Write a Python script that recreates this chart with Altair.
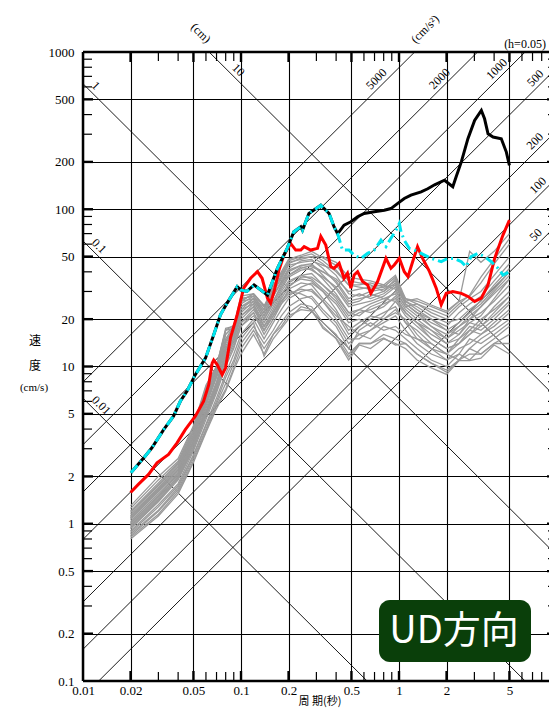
import math
import altair as alt
import pandas as pd

SERIF = "Liberation Serif"
CJK = "Noto Sans CJK JP"

# ---------------- axis values ----------------
X_LABELS = [0.01, 0.02, 0.05, 0.1, 0.2, 0.5, 1, 2, 5, 10]
Y_LABELS = [0.1, 0.2, 0.5, 1, 2, 5, 10, 20, 50, 100, 200, 500, 1000]
MINOR_MULT = [3, 4, 6, 7, 8, 9]

# tripartite guide lines
DISP_CM = [0.01, 0.1, 1, 10]
DISP_LABELS = ["0.01", "0.1", "1", "10"]
DISP_LABEL_T = [0.0108, 0.0108, 0.0108, 0.0835]
ACC = [50, 100, 200, 500, 1000, 2000, 5000]
ACC_LABELS = ["50", "100", "200", "500", "1000", "2000", "5000"]
ACC_LABEL_T = [7.97, 8.2, 7.85, 7.9, 4.51, 1.96, 0.78]

# ---------------- spectra ----------------
CYAN_T = [0.0201, 0.0248, 0.0273, 0.0324, 0.0374, 0.0413, 0.0455, 0.0514, 0.0596, 0.0672,
          0.0741, 0.0817, 0.0946, 0.0993, 0.109, 0.121, 0.147, 0.170, 0.196, 0.216,
          0.239, 0.245, 0.269, 0.320, 0.361, 0.388, 0.408,
          0.439, 0.483, 0.520, 0.574, 0.633, 0.697, 0.769, 0.827, 0.889, 0.957,
          1.005, 1.03, 1.08, 1.16, 1.25, 1.38, 1.60, 1.85, 2.04, 2.24,
          2.48, 2.66, 2.86, 3.16, 3.48, 3.84, 4.24, 4.55, 5.0]
CYAN_V = [2.11, 2.70, 3.04, 3.97, 4.83, 6.01, 6.97, 8.87, 11.3, 15.9,
          21.3, 25.3, 32.2, 30.7, 30.0, 33.0, 28.5, 42.1, 56.4, 71.9,
          77.4, 73.6, 94.0, 106, 94, 77.4, 70.2,
          55.0, 55.0, 51.1, 48.7, 52.4, 55.0, 63.6, 57.8, 65.3, 73.6,
          81.2, 71.9, 63.6, 56.4, 55.0, 52.4, 48.7, 46.4, 48.7, 48.7,
          46.4, 43.2, 50.0, 52.4, 50.0, 46.4, 42.1, 38.2, 40.1]

BLACK_TAIL_T = [0.418, 0.449, 0.496, 0.547, 0.602, 0.697, 0.807, 0.889, 0.982, 1.08,
                1.19, 1.38, 1.52, 1.68, 1.94, 2.19, 2.30, 2.48, 2.73, 3.01,
                3.32, 3.48, 3.66, 3.94, 4.44, 4.78, 5.0]
BLACK_TAIL_V = [71.9, 79.2, 83.2, 89.6, 94.0, 96.3, 98.6, 101, 109, 117,
                123, 129, 135, 143, 153, 139, 161, 200, 281, 367,
                425, 376, 302, 288, 281, 231, 190]

RED_T = [0.020, 0.0224, 0.0260, 0.0294, 0.0348, 0.0394, 0.0444, 0.0514, 0.0580, 0.0625,
         0.0657, 0.0672, 0.0706, 0.0760, 0.0798, 0.0858, 0.0946, 0.104, 0.115, 0.127,
         0.136, 0.147, 0.154, 0.162, 0.174, 0.187, 0.206, 0.222, 0.239, 0.251,
         0.276, 0.305, 0.320, 0.344, 0.370, 0.388, 0.418, 0.449, 0.472, 0.496,
         0.520, 0.547, 0.588, 0.633, 0.664, 0.732, 0.827, 0.889, 0.933, 1.005,
         1.08, 1.14, 1.22, 1.31, 1.41, 1.56, 1.72, 1.85, 1.99, 2.19,
         2.48, 2.73, 3.01, 3.32, 3.66, 4.03, 4.55, 5.0]
RED_V = [1.58, 1.78, 2.06, 2.44, 2.76, 3.27, 3.97, 4.83, 6.01, 7.67,
         10.5, 11.0, 10.3, 8.87, 9.77, 15.2, 21.3, 31.5, 36.4, 40.1,
         36.4, 27.2, 25.3, 30.0, 41.1, 51.1, 60.6, 55.0, 55.0, 57.8,
         55.0, 56.4, 67.2, 59.2, 43.2, 42.1, 45.3, 36.4, 39.2, 31.5,
         38.2, 40.1, 34.7, 33.0, 29.2, 34.7, 48.7, 42.1, 44.2, 48.7,
         40.1, 37.3, 46.4, 57.8, 48.7, 40.1, 31.5, 24.7, 29.2, 30.0,
         29.2, 27.9, 25.9, 27.2, 33.0, 48.7, 68.5, 85.3]

GRAY_T = [0.02, 0.03, 0.04, 0.05, 0.06, 0.07, 0.08, 0.09, 0.10, 0.12, 0.14, 0.16, 0.18, 0.20,
          0.24, 0.28, 0.33, 0.40, 0.48, 0.56, 0.66, 0.80, 0.95, 1.1, 1.3, 1.6, 2.0, 2.4, 2.8,
          3.3, 4.0, 5.0]
GRAY_SERIES = [
    [0.80, 1.12, 1.55, 2.45, 3.8, 5.4, 7.0, 9.5, 12, 16, 12, 16, 19, 22, 25, 24, 19, 16, 12, 14, 14, 16, 15, 14, 12, 10.5, 9.2, 11, 12, 12, 14, 16],
    [0.84, 1.20, 1.65, 2.6, 4.0, 5.8, 7.8, 10.5, 14, 18, 14, 17, 21, 24, 27, 28, 23, 19, 14, 16, 15, 18, 17, 15, 13, 11, 10, 12, 11, 13, 15, 18],
    [0.88, 1.28, 1.75, 2.75, 4.3, 6.3, 9.0, 12, 16, 20, 15, 19, 23, 27, 30, 31, 26, 20, 15, 15, 17, 19, 21, 17, 14, 12, 11, 13, 14, 16, 19, 23],
    [0.90, 1.32, 1.8, 2.9, 4.6, 6.8, 10, 13, 18, 21, 17, 22, 26, 30, 29, 27, 22, 18, 13, 17, 19, 17, 18, 16, 15, 14, 12, 11, 13, 15, 17, 20],
    [0.93, 1.38, 1.9, 3.0, 4.9, 7.2, 11, 14, 19, 22, 16, 20, 25, 31, 34, 33, 27, 22, 16, 18, 20, 22, 24, 19, 17, 14, 12, 15, 17, 16, 18, 22],
    [0.96, 1.42, 1.95, 3.1, 5.1, 7.6, 12, 15, 20, 24, 18, 23, 29, 33, 36, 35, 30, 25, 19, 20, 18, 21, 26, 21, 18, 15, 13, 14, 16, 19, 24, 30],
    [0.98, 1.48, 2.0, 3.2, 5.4, 8.0, 12.5, 15.5, 21, 25, 19, 24, 30, 35, 38, 39, 33, 27, 21, 23, 22, 24, 28, 22, 19, 17, 15, 17, 19, 18, 21, 26],
    [1.00, 1.52, 2.05, 3.3, 5.6, 8.5, 13, 16, 22, 26, 20, 25, 31, 37, 41, 42, 36, 29, 22, 21, 24, 26, 30, 24, 21, 18, 16, 18, 20, 22, 26, 33],
    [1.03, 1.56, 2.1, 3.4, 5.9, 8.8, 13.5, 16.5, 23, 27, 21, 26, 33, 40, 44, 45, 38, 31, 24, 25, 26, 28, 32, 25, 22, 19, 17, 16, 19, 21, 27, 36],
    [1.06, 1.60, 2.15, 3.5, 6.1, 9.0, 14, 17, 24, 27, 22, 28, 35, 42, 47, 48, 42, 34, 26, 27, 28, 30, 34, 26, 24, 21, 19, 20, 23, 26, 33, 42],
    [1.09, 1.65, 2.2, 3.6, 6.3, 9.3, 14.5, 17.5, 25, 28, 23, 30, 37, 45, 49, 50, 45, 38, 29, 28, 30, 31, 35, 27, 25, 22, 20, 24, 27, 30, 38, 50],
    [1.12, 1.70, 2.3, 3.7, 6.6, 9.6, 15, 18, 26, 29, 24, 31, 38, 47, 50, 52, 47, 40, 33, 32, 31, 32, 37, 26, 23, 20, 18, 22, 25, 28, 35, 45],
    [1.15, 1.75, 2.35, 3.8, 6.9, 9.8, 16, 18, 27, 28, 23, 32, 40, 48, 51, 54, 49, 44, 35, 34, 33, 30, 36, 25, 22, 20, 17, 19, 22, 25, 31, 40],
    [1.20, 1.82, 2.45, 3.95, 7.2, 10, 17, 18.3, 28, 29, 24, 33, 39, 46, 48, 50, 50, 46, 37, 36, 35, 33, 38, 27, 26, 24, 22, 26, 28, 34, 45, 60],
    [1.25, 1.90, 2.5, 4.1, 7.4, 10, 17.5, 18, 27, 28, 22, 30, 36, 44, 46, 47, 44, 41, 33, 33, 34, 32, 33, 26, 27, 24.6, 22.5, 26, 54, 46, 54, 70],
    [1.30, 2.0, 2.6, 4.2, 7.6, 10, 17, 17.5, 26, 27, 21, 28, 34, 41, 44, 43, 40, 36, 30, 31, 32, 33, 31, 24, 25, 23, 21, 25, 28.5, 37, 48, 65],
    [0.82, 1.15, 1.6, 2.5, 3.9, 5.6, 7.2, 9.8, 13, 17, 13, 16, 18, 21, 23, 22.5, 18, 15, 11, 13.7, 13, 15, 14, 13, 11, 9.8, 8.9, 10.9, 10.9, 11.3, 13.7, 12],
    [0.86, 1.22, 1.7, 2.7, 4.2, 6.0, 8.5, 11, 15, 19, 11.6, 15, 17.5, 20, 24, 23, 17.5, 15.2, 11.5, 14, 14, 15.2, 13.7, 14, 12, 10.5, 9.5, 11, 13, 12, 14, 14],
    [1.01, 1.50, 2.1, 3.3, 5.2, 7.8, 12, 15, 21, 24, 17, 21, 25, 28, 32, 34, 30, 23, 17, 19, 21, 20, 22, 20, 16, 13, 11, 12, 15, 14, 16, 19],
    [1.08, 1.62, 2.2, 3.5, 5.8, 8.7, 13, 16, 23, 25, 18, 22, 27, 32, 37, 37, 33, 28, 22, 23, 25, 27, 29, 23, 20, 17, 14, 15, 18, 17, 20, 25],
    [0.94, 1.40, 1.95, 3.0, 4.8, 7.0, 10.5, 13.5, 18, 22, 17, 21, 26, 29, 31, 30, 26, 21, 18, 16, 17, 20, 23, 19, 15, 13, 12, 14, 17, 20, 23, 28],
    [1.18, 1.78, 2.4, 3.9, 7.0, 9.9, 16, 18, 26, 29, 24.5, 29, 34, 38, 42, 44, 40, 35, 27, 29, 27, 29, 33, 25, 22, 18, 15, 18, 21, 24, 29, 36],
    [0.97, 1.45, 2.0, 3.2, 5.0, 7.4, 11.5, 14.5, 19, 23, 18, 22, 28, 34, 38, 36, 31, 26, 20, 22, 23, 25, 27, 22, 19, 16, 14, 16, 20, 24, 30, 38],
    [1.11, 1.68, 2.25, 3.6, 6.4, 9.4, 14.5, 17, 24, 26, 20, 26, 32, 38, 43, 41, 37, 32, 25, 26, 29, 27, 26, 22, 19, 15, 13, 14, 16, 18, 22, 28],
]

# ---------------- tables ----------------
gray_rows = []
for i, vals in enumerate(GRAY_SERIES):
    for t, v in zip(GRAY_T, vals):
        gray_rows.append({"T": t, "V": v, "id": i})
gray_df = pd.DataFrame(gray_rows)

cyan_df = pd.DataFrame({"T": CYAN_T, "V": CYAN_V})
black_df = pd.DataFrame({"T": CYAN_T[:27] + BLACK_TAIL_T, "V": CYAN_V[:27] + BLACK_TAIL_V})
red_df = pd.DataFrame({"T": RED_T, "V": RED_V})

TWO_PI = 2 * math.pi
guide_rows = []
for d in DISP_CM:
    for t in (0.001, 100.0):
        guide_rows.append({"T": t, "V": TWO_PI * d / t, "id": f"d{d}"})
for a in ACC:
    for t in (0.001, 100.0):
        guide_rows.append({"T": t, "V": a * t / TWO_PI, "id": f"a{a}"})
guide_df = pd.DataFrame(guide_rows)

disp_lab_df = pd.DataFrame({"T": DISP_LABEL_T,
                            "V": [TWO_PI * d / t for d, t in zip(DISP_CM, DISP_LABEL_T)],
                            "label": DISP_LABELS})
acc_lab_df = pd.DataFrame({"T": ACC_LABEL_T,
                           "V": [a * t / TWO_PI for a, t in zip(ACC, ACC_LABEL_T)],
                           "label": ACC_LABELS})

x_minor = pd.DataFrame({"T": [m * 10.0 ** e for e in range(-2, 1) for m in MINOR_MULT]})
x_major = pd.DataFrame({"T": X_LABELS[1:-1]})
y_minor = pd.DataFrame({"V": [m * 10.0 ** e for e in range(-1, 3) for m in MINOR_MULT]})
y_major = pd.DataFrame({"V": Y_LABELS[1:-1]})
one = pd.DataFrame({"k": [0]})

# ---------------- scales / axes ----------------
XR = 474          # full log range of the period axis (0.01 .. 10)
W, H = 466, 629   # visible view (the right end runs to the page edge, as in the original)
xs = alt.Scale(type="log", domain=[0.01, 10], nice=False, range=[0, XR])
ys = alt.Scale(type="log", domain=[0.1, 1000], nice=False)
xax = alt.Axis(values=X_LABELS, format="~g", grid=True, gridColor="black", gridWidth=1.1,
               domain=False, ticks=False, labelFont=SERIF, labelFontSize=13, labelColor="black",
               labelPadding=3, labelFlush=False, labelOverlap=False, title=None)
yax = alt.Axis(values=Y_LABELS, format="~g", grid=True, gridColor="black", gridWidth=1.1,
               domain=False, ticks=False, labelFont=SERIF, labelFontSize=13, labelColor="black",
               labelPadding=9, labelFlush=False, labelOverlap=False, title=None)


def X():
    return alt.X("T:Q", scale=xs, axis=xax)


def Y():
    return alt.Y("V:Q", scale=ys, axis=yax)


guides = alt.Chart(guide_df).mark_line(clip=True, color="black", strokeWidth=0.9).encode(
    x=X(), y=Y(), detail="id:N")
gray = alt.Chart(gray_df).mark_line(color="#9a9a9a", strokeWidth=1.3).encode(
    x=X(), y=Y(), detail="id:N")
red = alt.Chart(red_df).mark_line(color="#ff0000", strokeWidth=3).encode(x=X(), y=Y())
black = alt.Chart(black_df).mark_line(color="black", strokeWidth=3).encode(x=X(), y=Y())
cyan = alt.Chart(cyan_df).mark_line(color="#00e5ee", strokeWidth=3,
                                    strokeDash=[10, 4, 2, 4]).encode(x=X(), y=Y())

tk = dict(color="black")
ticks = [
    alt.Chart(x_minor).mark_rule(strokeWidth=1.2, **tk).encode(x=X(), y=alt.value(0), y2=alt.value(9)),
    alt.Chart(x_minor).mark_rule(strokeWidth=1.2, **tk).encode(x=X(), y=alt.value(H), y2=alt.value(H - 9)),
    alt.Chart(x_major).mark_rule(strokeWidth=2.4, **tk).encode(x=X(), y=alt.value(0), y2=alt.value(10)),
    alt.Chart(x_major).mark_rule(strokeWidth=2.4, **tk).encode(x=X(), y=alt.value(H), y2=alt.value(H - 10)),
    alt.Chart(y_minor).mark_rule(strokeWidth=1.2, **tk).encode(y=Y(), x=alt.value(0), x2=alt.value(9)),
    alt.Chart(y_minor).mark_rule(strokeWidth=1.2, **tk).encode(y=Y(), x=alt.value(XR), x2=alt.value(XR - 9)),
    alt.Chart(y_major).mark_rule(strokeWidth=2.4, **tk).encode(y=Y(), x=alt.value(0), x2=alt.value(10)),
    alt.Chart(y_major).mark_rule(strokeWidth=2.4, **tk).encode(y=Y(), x=alt.value(XR), x2=alt.value(XR - 10)),
]

frame = [
    alt.Chart(one).mark_rule(strokeWidth=2.5, color="black").encode(
        x=alt.value(0), x2=alt.value(XR), y=alt.value(0)),
    alt.Chart(one).mark_rule(strokeWidth=2.5, color="black").encode(
        x=alt.value(0), x2=alt.value(XR), y=alt.value(H)),
    alt.Chart(one).mark_rule(strokeWidth=2.5, color="black").encode(
        x=alt.value(0), y=alt.value(0), y2=alt.value(H)),
]

disp_labels = alt.Chart(disp_lab_df).mark_text(
    angle=45, align="left", baseline="bottom", dy=-1, font=SERIF, fontSize=12, color="black"
).encode(x=X(), y=Y(), text="label:N")
acc_labels = alt.Chart(acc_lab_df).mark_text(
    angle=315, align="center", baseline="bottom", dy=-1, font=SERIF, fontSize=12, color="black"
).encode(x=X(), y=Y(), text="label:N")


def static_text(txt, x, y, **kw):
    props = dict(font=SERIF, fontSize=12, color="black", align="center", baseline="middle")
    props.update(kw)
    return alt.Chart(one).mark_text(text=txt, **props).encode(x=alt.value(x), y=alt.value(y))


texts = [
    static_text("(cm)", 118, -19, angle=45),
    static_text("(cm/s²)", 342, -23, angle=315),
    static_text("(h=0.05)", 442, -8),
    static_text("速", -48, 289, font=CJK, fontSize=12),
    static_text("度", -48, 314, font=CJK, fontSize=12),
    static_text("(cm/s)", -49, 336, fontSize=11),
    static_text("周  期(秒)", 237, 650, font=CJK, fontSize=11),
]

box = alt.Chart(one).mark_rect(cornerRadius=11, color="#0a3f0a").encode(
    x=alt.value(296), x2=alt.value(448), y=alt.value(548), y2=alt.value(610))
box_text = alt.Chart(one).mark_text(
    text="UD方向", font=CJK, fontSize=38, color="white", align="center", baseline="middle"
).encode(x=alt.value(371), y=alt.value(580))

chart = alt.layer(
    guides, gray, red, black, cyan, *ticks, *frame, disp_labels, acc_labels, *texts, box, box_text
).properties(
    width=W, height=H,
    padding={"left": 75, "top": 44, "right": 0, "bottom": 27},
    autosize=alt.AutoSizeParams(type="none"),
).configure_view(strokeWidth=0)

chart.save("out.html", embed_options={"renderer": "svg", "actions": False})
